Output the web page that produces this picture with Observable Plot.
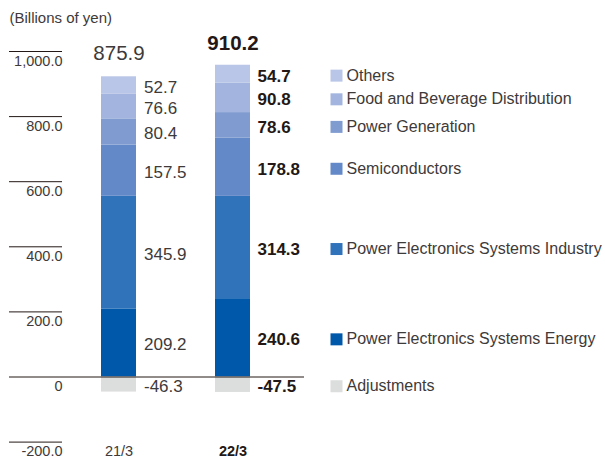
<!DOCTYPE html>
<html>
<head>
<meta charset="utf-8">
<script src="https://cdn.jsdelivr.net/npm/d3@7"></script>
<script src="https://cdn.jsdelivr.net/npm/@observablehq/plot@0.6"></script>
<style>
  html, body { margin: 0; padding: 0; background: #fff; }
  svg { display: block; }
</style>
</head>
<body>
<div id="chart"></div>
<script>
// ---- data ----
const periods = ["21/3", "22/3"];
const segments = [
  "Power Electronics Systems Energy",
  "Power Electronics Systems Industry",
  "Semiconductors",
  "Power Generation",
  "Food and Beverage Distribution",
  "Others",
  "Adjustments"
];
const values2103 = [209.2, 345.9, 157.5, 80.4, 76.6, 52.7, -46.3];
const values2203 = [240.6, 314.3, 178.8, 78.6, 90.8, 54.7, -47.5];
const totals = [875.9, 910.2];
const colors = ["#0058ab", "#3173ba", "#6489c8", "#7f9bd0", "#a3b5de", "#bac6e7", "#dcdddd"];
const yTicks = [-200, 0, 200, 400, 600, 800, 1000];
const unitLabel = "(Billions of yen)";

// ---- tables built from the arrays ----
const seriesByPeriod = [values2103, values2203];
const rows = periods.flatMap((p, i) =>
  segments.map((s, j) => ({period: p, segment: s, value: seriesByPeriod[i][j]}))
);
const totalRows = periods.map((p, i) => ({
  period: p,
  top: d3.sum(seriesByPeriod[i].filter(v => v > 0)),
  total: totals[i]
}));

const fmtY = d => d === 0 ? "0" : (d < 0 ? "-" : "") + d3.format(",.1f")(Math.abs(d));
const font = "'Liberation Sans', Arial, Helvetica, sans-serif";
const normalInk = "#3e3a39";
const boldInk = "#231815";

const chart = Plot.plot({
  width: 605,
  height: 459,
  marginLeft: 62,
  marginRight: 301,
  marginTop: 51,
  marginBottom: 17.4,
  style: {fontFamily: font, background: "#fff"},
  x: {domain: periods, range: [101, 250], paddingInner: 0.693, paddingOuter: 0, label: null},
  y: {domain: [-200, 1000], label: null},
  color: {domain: segments, range: colors},
  marks: [
    // y-axis short rules
    Plot.axisY(yTicks, {tickSize: 53, tickFormat: () => "", stroke: boldInk, label: null}),
    // y-axis labels under each rule
    Plot.axisY(yTicks, {tickSize: 0, tickPadding: 0, dy: 9.5, tickFormat: fmtY, fontSize: 14.5, fill: normalInk, label: null}),
    // x-axis labels
    Plot.axisX([periods[0]], {tickSize: 0, tickPadding: 3.5, fontSize: 14.5, fill: normalInk, label: null}),
    Plot.axisX([periods[1]], {tickSize: 0, tickPadding: 3.5, fontSize: 14.5, fontWeight: "bold", fill: boldInk, label: null}),
    // unit label
    Plot.text([unitLabel], {frameAnchor: "top-left", lineAnchor: "middle", textAnchor: "start", dx: -53, dy: -33, fontSize: 15, fill: normalInk}),
    // stacked bars
    Plot.barY(rows, {x: "period", y: "value", fill: "segment"}),
    Plot.ruleY([0], {stroke: boldInk, strokeWidth: 1}),
    // value labels
    Plot.text(rows, Plot.stackY({
      filter: d => d.period === periods[0],
      x: "period", y: "value", text: d => d.value.toFixed(1),
      textAnchor: "start", dx: 25, dy: 2, fontSize: 17, fill: normalInk
    })),
    Plot.text(rows, Plot.stackY({
      filter: d => d.period === periods[1],
      x: "period", y: "value", text: d => d.value.toFixed(1),
      textAnchor: "start", dx: 24.5, dy: 2, fontSize: 17, fontWeight: "bold", fill: boldInk
    })),
    // totals
    Plot.text(totalRows.slice(0, 1), {x: "period", y: "top", text: d => d.total.toFixed(1), dy: -23, fontSize: 20.5, fill: normalInk}),
    Plot.text(totalRows.slice(1), {x: "period", y: "top", text: d => d.total.toFixed(1), dy: -22, fontSize: 20.5, fontWeight: "bold", fill: boldInk}),
    // legend aligned with the 22/3 labels
    Plot.dot(rows, Plot.stackY({
      filter: d => d.period === periods[1],
      x: "period", y: "value", fill: "segment", symbol: "square", r: 6.77, dx: 103.5, dy: 1.5
    })),
    Plot.text(rows, Plot.stackY({
      filter: d => d.period === periods[1],
      x: "period", y: "value", text: "segment",
      textAnchor: "start", dx: 113.5, dy: 1.5, fontSize: 16, fill: normalInk
    }))
  ]
});
document.getElementById("chart").append(chart);
</script>
</body>
</html>
